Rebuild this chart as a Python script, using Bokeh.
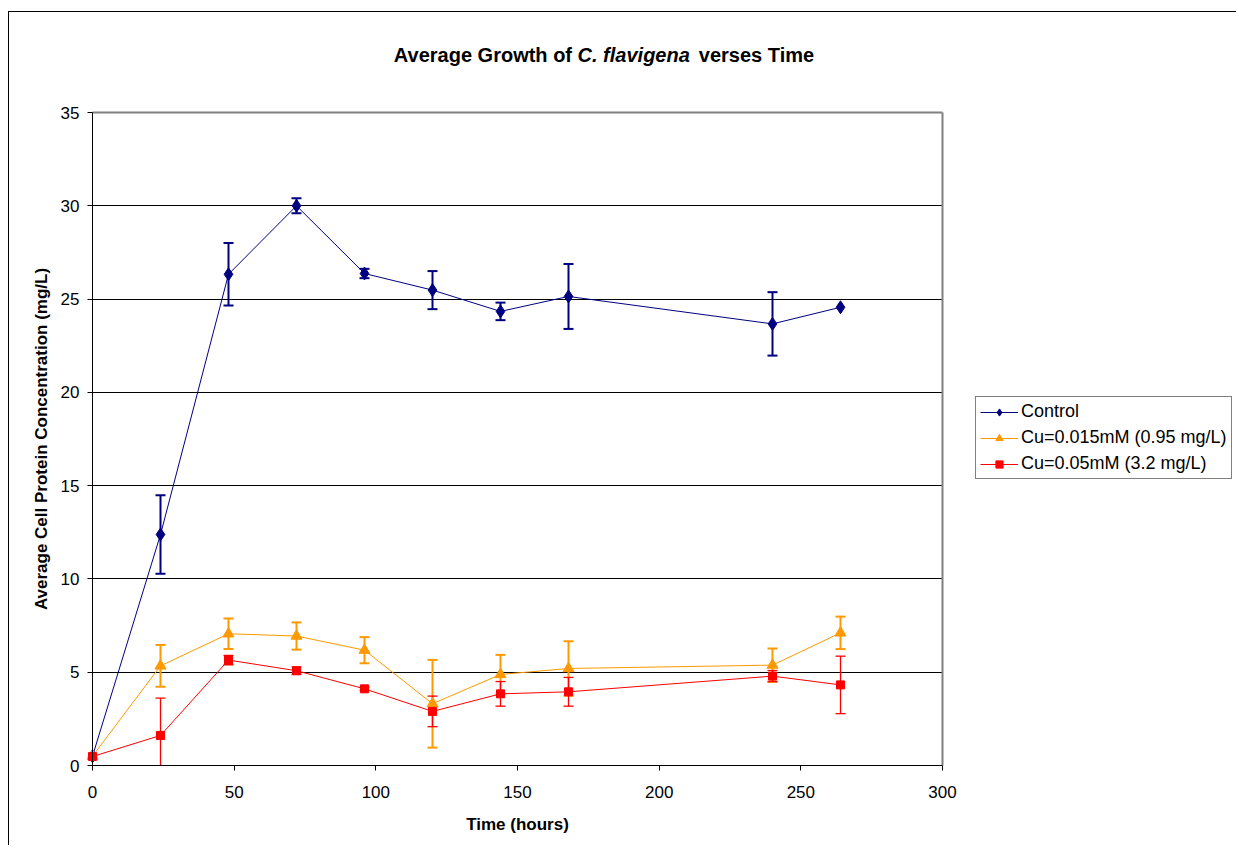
import math
from bokeh.plotting import figure
from bokeh.models import (ColumnDataSource, Whisker, TeeHead, Legend, LegendItem,
                          Label, Range1d, FixedTicker, Grid)
from bokeh.embed import file_html
from bokeh.resources import INLINE

# ---------------- data ----------------
time_h = [0, 24, 48, 72, 96, 120, 144, 168, 240, 264]
control = [0.5, 12.38, 26.33, 30.0, 26.37, 25.48, 24.34, 25.14, 23.67, 24.56]
control_err = [0, 2.1, 1.67, 0.4, 0.25, 1.02, 0.47, 1.74, 1.7, 0]
cu015 = [0.5, 5.34, 7.06, 6.94, 6.18, 3.31, 4.88, 5.2, 5.38, 7.11]
cu015_err = [0, 1.12, 0.82, 0.73, 0.7, 2.35, 1.05, 1.46, 0.89, 0.87]
cu05 = [0.48, 1.61, 5.65, 5.08, 4.11, 2.9, 3.84, 3.95, 4.79, 4.32]
cu05_err = [0, 2.0, 0.25, 0.2, 0.08, 0.82, 0.66, 0.77, 0.3, 1.54]

series_names = ["Control", "Cu=0.015mM (0.95 mg/L)", "Cu=0.05mM (3.2 mg/L)"]
colors = ["#000080", "#FF9900", "#FF0000"]

x_ticks = [0, 50, 100, 150, 200, 250, 300]
y_ticks = [0, 5, 10, 15, 20, 25, 30, 35]

title_parts = ["Average Growth of ", "C. flavigena", " verses Time"]
x_title = "Time (hours)"
y_title = "Average Cell Protein Concentration (mg/L)"

FONT = "Liberation Sans"

# ---------------- layout constants (pixels) ----------------
W, H = 1228, 834                 # canvas
PA_LEFT, PA_RIGHT = 83, 933      # plot area inside canvas
PA_TOP, PA_BOTTOM = 100, 753
X_MAX, Y_MAX = x_ticks[-1], y_ticks[-1]
kx = (PA_RIGHT - PA_LEFT) / X_MAX
ky = (PA_BOTTOM - PA_TOP) / Y_MAX
x0 = -PA_LEFT / kx
x1 = x0 + W / kx
y0 = -(H - PA_BOTTOM) / ky
y1 = y0 + H / ky

p = figure(width=W, height=H, output_backend="svg", toolbar_location=None,
           x_range=Range1d(x0, x1), y_range=Range1d(y0, y1),
           min_border_left=0, min_border_right=0, min_border_top=0,
           min_border_bottom=0)
p.margin = (11, 0, 0, 8)
p.styles = {"border-left": "1px solid #000000", "border-top": "1px solid #000000"}

p.background_fill_color = "white"
p.border_fill_color = "white"
p.outline_line_color = None

# ---------------- axes drawn at data zero ----------------
for ax, ticks, bnds in ((p.xaxis[0], x_ticks, (0, X_MAX)),
                        (p.yaxis[0], y_ticks, (0, Y_MAX))):
    ax.fixed_location = 0
    ax.bounds = bnds
    ax.ticker = FixedTicker(ticks=ticks)
    ax.axis_line_color = "#000000"
    ax.major_tick_line_color = "#000000"
    ax.major_tick_in = 0
    ax.major_tick_out = 5
    ax.minor_tick_line_color = None
    ax.major_label_text_font = FONT
    ax.major_label_text_font_size = "17px"
    ax.major_label_text_color = "#000000"
p.xaxis.major_label_standoff = 15
p.yaxis.major_label_standoff = 8

# ---------------- grid & plot-area border ----------------
p.xgrid.visible = False
p.ygrid.visible = False
g_major = Grid(dimension=1, ticker=FixedTicker(ticks=y_ticks[1:-1]),
               grid_line_color="#000000", grid_line_width=1)
g_top = Grid(dimension=1, ticker=FixedTicker(ticks=[Y_MAX]),
             grid_line_color="#808080", grid_line_width=2)
g_right = Grid(dimension=0, ticker=FixedTicker(ticks=[X_MAX]),
               grid_line_color="#808080", grid_line_width=2)
g_major.cross_bounds = (0, X_MAX)
g_top.cross_bounds = (0, X_MAX)
g_right.cross_bounds = (0, Y_MAX)
for g in (g_major, g_top, g_right):
    p.add_layout(g)

# ---------------- series ----------------
values = [control, cu015, cu05]
errors = [control_err, cu015_err, cu05_err]
markers = ["diamond", "triangle", "square"]
msizes = [13, 11, 8]
err_w = [2, 2, 1.3]
items = []
for name, col, vals, errs, mk, ms, ew in zip(series_names, colors, values, errors,
                                            markers, msizes, err_w):
    # error bars: those reaching below the axis are clipped there (as in Excel)
    inside = [(t, v + e, v - e) for t, v, e in zip(time_h, vals, errs)
              if e > 0 and v - e >= 0]
    clipped = [(t, v + e, 0.0) for t, v, e in zip(time_h, vals, errs)
               if e > 0 and v - e < 0]
    for group, low_head in ((inside, True), (clipped, False)):
        if not group:
            continue
        esrc = ColumnDataSource(dict(x=[g[0] for g in group],
                                     upper=[g[1] for g in group],
                                     lower=[g[2] for g in group]))
        w = Whisker(source=esrc, base="x", upper="upper", lower="lower",
                    dimension="height", line_color=col, line_width=ew,
                    upper_head=TeeHead(size=10, line_color=col, line_width=ew),
                    lower_head=(TeeHead(size=10, line_color=col, line_width=ew)
                                if low_head else None))
        p.add_layout(w)
    src = ColumnDataSource(dict(x=time_h, y=vals))
    ln = p.line("x", "y", source=src, line_color=col, line_width=1)
    sc = p.scatter("x", "y", source=src, marker=mk, size=ms, fill_color=col,
                   line_color=col)
    items.append(LegendItem(label=name, renderers=[ln, sc]))

legend = Legend(items=items, location=(966, 367), orientation="vertical")
legend.label_text_font = FONT
legend.label_text_font_size = "18px"
legend.label_text_color = "#000000"
legend.border_line_color = "#000000"
legend.border_line_width = 1
legend.background_fill_color = "white"
legend.background_fill_alpha = 1
legend.padding = 4
legend.spacing = 5
legend.margin = 0
legend.glyph_width = 38
legend.glyph_height = 18
legend.label_height = 20
legend.label_standoff = 3
p.add_layout(legend)

# ---------------- texts ----------------
ty = 38.06
txt = dict(text_font=FONT, text_color="#000000")
p.add_layout(Label(x=171.2, y=ty, text=title_parts[0], text_align="right",
                   text_baseline="alphabetic", text_font_size="20px",
                   text_font_style="bold", **txt))
p.add_layout(Label(x=171.2, y=ty, text=title_parts[1], text_align="left",
                   text_baseline="alphabetic", text_font_size="20px",
                   text_font_style="bold italic", **txt))
p.add_layout(Label(x=214.0, y=ty, text=title_parts[2], text_align="left",
                   text_baseline="alphabetic", text_font_size="20px",
                   text_font_style="bold", **txt))
p.add_layout(Label(x=X_MAX / 2, y=-3.16, text=x_title, text_align="center",
                   text_baseline="middle", text_font_size="17px",
                   text_font_style="bold", **txt))
p.add_layout(Label(x=-18.0, y=Y_MAX / 2, text=y_title, text_align="center",
                   text_baseline="middle", text_font_size="17px",
                   text_font_style="bold", angle=math.pi / 2, **txt))

open("out.html", "w").write(file_html(p, INLINE))
